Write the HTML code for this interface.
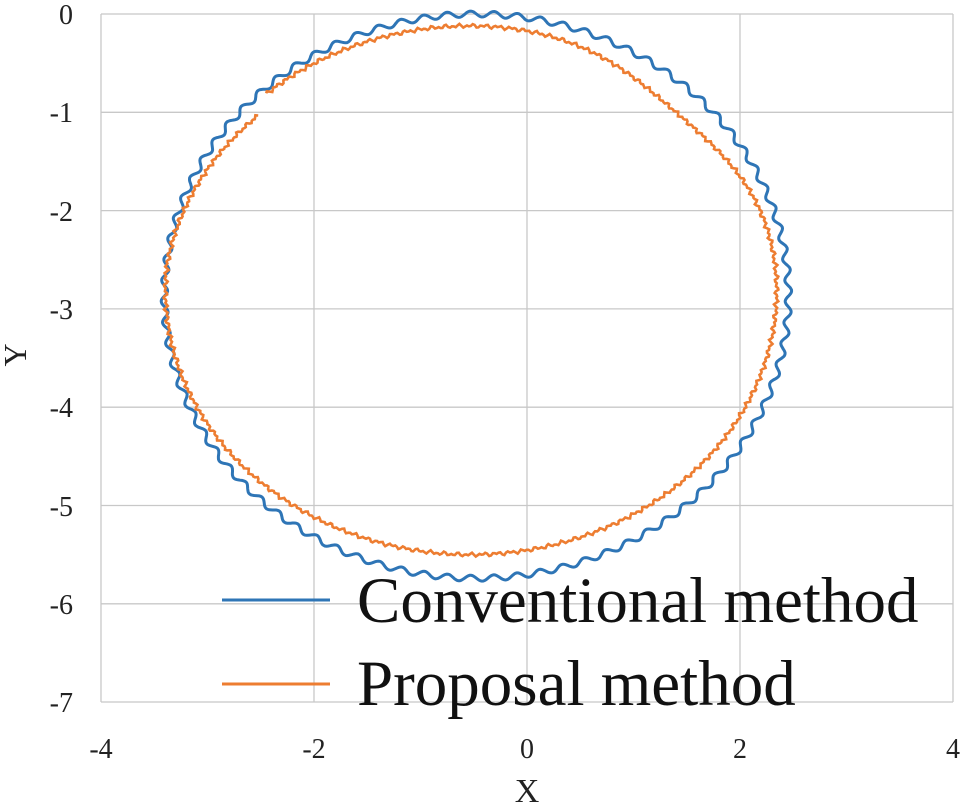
<!DOCTYPE html>
<html><head><meta charset="utf-8"><style>
body{margin:0;background:#fff;}
svg{display:block;font-family:"Liberation Serif",serif;}
</style></head><body>
<svg id="s" width="966" height="803" xmlns="http://www.w3.org/2000/svg">
<g stroke="#c8c8c8" stroke-width="1.3" fill="none">
<line x1="101" y1="14" x2="953" y2="14"/>
<line x1="101" y1="112.3" x2="953" y2="112.3"/>
<line x1="101" y1="210.6" x2="953" y2="210.6"/>
<line x1="101" y1="308.9" x2="953" y2="308.9"/>
<line x1="101" y1="407.2" x2="953" y2="407.2"/>
<line x1="101" y1="505.5" x2="953" y2="505.5"/>
<line x1="101" y1="603.8" x2="953" y2="603.8"/>
<line x1="101" y1="702" x2="953" y2="702"/>
<line x1="101" y1="14" x2="101" y2="702"/>
<line x1="314" y1="14" x2="314" y2="702"/>
<line x1="527" y1="14" x2="527" y2="702"/>
<line x1="740" y1="14" x2="740" y2="702"/>
<line x1="953" y1="14" x2="953" y2="702"/>
</g>
<g font-size="28" fill="#222" text-anchor="end">
<text x="73" y="24">0</text>
<text x="73" y="122">-1</text>
<text x="73" y="221">-2</text>
<text x="73" y="319">-3</text>
<text x="73" y="417">-4</text>
<text x="73" y="516">-5</text>
<text x="73" y="614">-6</text>
<text x="73" y="712">-7</text>
</g>
<g font-size="28" fill="#222" text-anchor="middle">
<text x="101" y="758">-4</text>
<text x="314" y="758">-2</text>
<text x="527" y="758">0</text>
<text x="740" y="758">2</text>
<text x="953" y="758">4</text>
<text x="527" y="802" font-size="34">X</text>
</g>
<text x="0" y="0" font-size="32" fill="#222" text-anchor="middle" transform="translate(26,355) rotate(-90)">Y</text>
<path id="blue" fill="none" stroke="#2e75b6" stroke-width="3"/>
<path id="orange" fill="none" stroke="#ed7d31" stroke-width="2.6"/>
<line x1="222" y1="600" x2="330" y2="600" stroke="#2e75b6" stroke-width="3"/>
<line x1="222" y1="684" x2="330" y2="684" stroke="#ed7d31" stroke-width="3"/>
<text x="357" y="622" font-size="65" fill="#111">Conventional method</text>
<text x="357" y="705" font-size="65" fill="#111">Proposal method</text>
</svg>
<script>
function px(x){return 527+x*106.5;}
function py(y){return 14-y*98.3;}
var d="";
for(var i=0;i<=1440;i++){var t=i/1440*2*Math.PI;
var w=0.03*Math.sin(84*t);
var x=-0.475+(2.93+w)*Math.cos(t), y=-2.87+(2.87+w)*Math.sin(t);
d+=(i?"L":"M")+px(x).toFixed(1)+" "+py(y).toFixed(1);}
document.getElementById("blue").setAttribute("d",d);
var d2="";var a0=136.5,a1=492;
for(var i=0;i<=1000;i++){var deg=a0+(a1-a0)*i/1000;var a=deg*Math.PI/180;
var n=0.012*Math.sin(i*1.7)+0.01*Math.sin(i*0.9);
var sh=deg<175?0.96+0.04*(deg-a0)/(175-a0):1;
var dd=deg-405; var dent=0.05*Math.exp(-dd*dd/400);
sh-=dent;
var x=-0.525+(2.87+n)*sh*Math.cos(a), y=-2.81+(2.69+n)*sh*Math.sin(a);
d2+=(i?"L":"M")+px(x).toFixed(1)+" "+py(y).toFixed(1);}
document.getElementById("orange").setAttribute("d",d2);
</script>
</body></html>
